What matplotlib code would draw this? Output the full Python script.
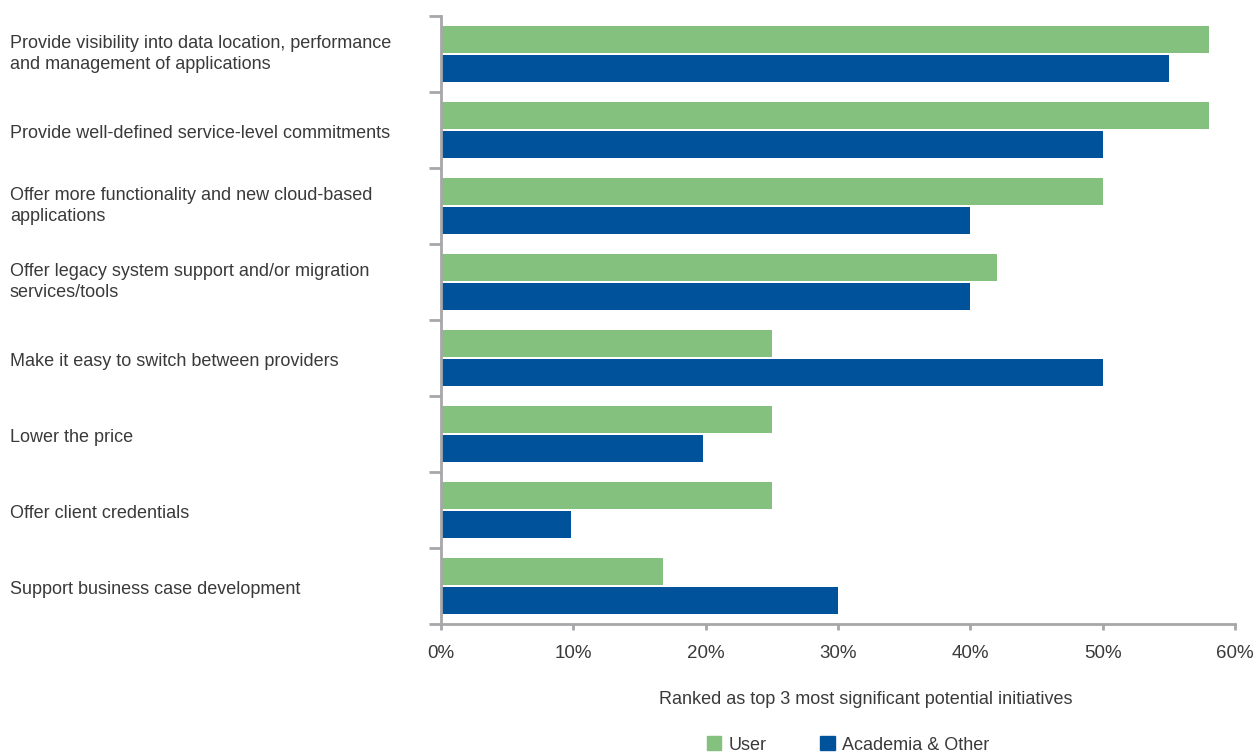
import numpy as np
import matplotlib.pyplot as plt
from matplotlib.transforms import blended_transform_factory
from matplotlib.patches import Patch

plt.rcParams['font.family'] = ['Liberation Sans', 'DejaVu Sans']

# initiatives, top to bottom
categories = [
    'Provide visibility into data location, performance\nand management of applications',
    'Provide well-defined service-level commitments',
    'Offer more functionality and new cloud-based\napplications',
    'Offer legacy system support and/or migration\nservices/tools',
    'Make it easy to switch between providers',
    'Lower the price',
    'Offer client credentials',
    'Support business case development',
]
user = [58, 58, 50, 42, 25, 25, 25, 16.8]
academia = [55, 50, 40, 40, 50, 19.8, 9.8, 30]
xticks = [0, 10, 20, 30, 40, 50, 60]

green = '#85c17e'
blue = '#00529b'
gray = '#a7a7aa'
txt = '#3a3a3a'

fig = plt.figure(figsize=(12.58, 7.54), dpi=100)
ax = fig.add_axes([441/1258, 1-624/754, (1235-441)/1258, (624-16)/754])

y = np.arange(len(categories))
h = 0.345
off = 0.19
ax.barh(y - off, user, height=h, color=green, label='User')
ax.barh(y + off, academia, height=h, color=blue, label='Academia & Other')

ax.set_ylim(len(categories) - 0.5, -0.5)
ax.set_xlim(0, 60)

for s in ['top', 'right']:
    ax.spines[s].set_visible(False)
for s in ['left', 'bottom']:
    ax.spines[s].set_color(gray)
    ax.spines[s].set_linewidth(2)

ax.set_yticks(np.arange(len(categories) + 1) - 0.5)
ax.set_yticklabels([])
ax.tick_params(axis='y', length=8.5, width=2, color=gray)
ax.set_xticks(xticks)
ax.set_xticklabels([f'{v}%' for v in xticks], fontsize=13.5, color=txt)
ax.tick_params(axis='x', length=4, width=2, color=gray, pad=11)

# category names sit at the left edge of the figure
trans = blended_transform_factory(fig.transFigure, ax.transData)
for i, lab in enumerate(categories):
    dy = 0.0 if '\n' in lab else 0.05
    ax.text(10/1258, i + dy, lab, transform=trans, ha='left', va='center',
            fontsize=13, color=txt, linespacing=1.35)

fig.text(866/1258, 1-700/754, 'Ranked as top 3 most significant potential initiatives',
         ha='center', va='center', fontsize=13, color=txt)

handles = [Patch(color=green, label='User'), Patch(color=blue, label='Academia & Other')]
fig.legend(handles=handles, loc='center', bbox_to_anchor=(848/1258, 1-745/754), ncol=2,
           frameon=False, fontsize=13, handlelength=0.8, handleheight=0.8,
           handletextpad=0.4, columnspacing=3.0, labelcolor=txt)

fig.savefig('out.png', dpi=100)
